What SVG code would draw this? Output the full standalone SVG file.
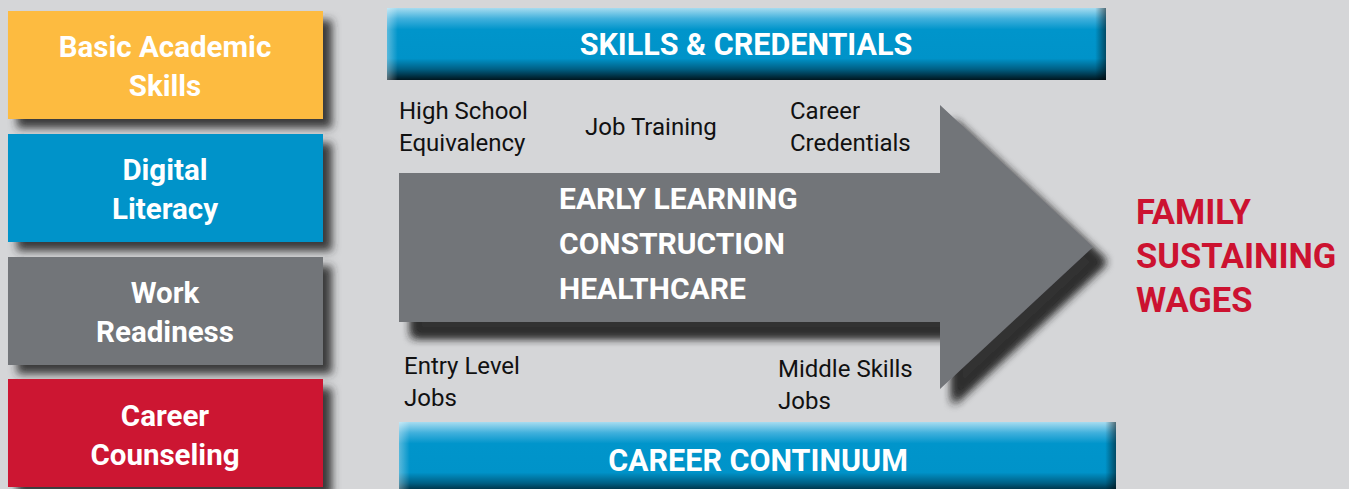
<svg xmlns="http://www.w3.org/2000/svg" width="1349" height="489" viewBox="0 0 1349 489">
<defs>
<filter id="sh" x="-10%" y="-20%" width="130%" height="150%">
<feGaussianBlur in="SourceAlpha" stdDeviation="4"/>
<feOffset dx="9" dy="9" result="b"/>
<feFlood flood-color="#2a2a2a" flood-opacity="0.9"/>
<feComposite in2="b" operator="in" result="s"/>
<feMerge><feMergeNode in="s"/><feMergeNode in="SourceGraphic"/></feMerge>
</filter>
<filter id="ash" x="-10%" y="-20%" width="130%" height="150%">
<feGaussianBlur in="SourceAlpha" stdDeviation="5"/>
<feOffset dx="13" dy="15" result="b"/>
<feFlood flood-color="#303030" flood-opacity="1"/>
<feComposite in2="b" operator="in" result="s"/>
<feMerge><feMergeNode in="s"/><feMergeNode in="s"/><feMergeNode in="SourceGraphic"/></feMerge>
</filter>
<linearGradient id="bv" x1="0" y1="0" x2="0" y2="1">
<stop offset="0" stop-color="#a6dcf0"/>
<stop offset="0.15" stop-color="#40b0dc"/>
<stop offset="0.3" stop-color="#0095cb"/>
<stop offset="0.7" stop-color="#0093c9"/>
<stop offset="0.85" stop-color="#005f84"/>
<stop offset="1" stop-color="#00161f"/>
</linearGradient>
<linearGradient id="bh" x1="0" y1="0" x2="1" y2="0">
<stop offset="0" stop-color="#ffffff" stop-opacity="0.35"/>
<stop offset="0.015" stop-color="#ffffff" stop-opacity="0"/>
<stop offset="0.985" stop-color="#000000" stop-opacity="0"/>
<stop offset="1" stop-color="#000000" stop-opacity="0.5"/>
</linearGradient>
<style>
.bx{font-family:Roboto,"Liberation Sans",sans-serif;font-weight:bold;font-size:29.5px;fill:#ffffff;text-anchor:middle}
.ban{font-family:Roboto,"Liberation Sans",sans-serif;font-weight:bold;font-size:30.5px;fill:#ffffff;text-anchor:middle}
.ar{font-family:Roboto,"Liberation Sans",sans-serif;font-weight:bold;font-size:30px;fill:#ffffff}
.sm{font-family:Roboto,"Liberation Sans",sans-serif;font-size:24px;fill:#111111}
.red{font-family:Roboto,"Liberation Sans",sans-serif;font-weight:bold;font-size:34.5px;fill:#cc1230}
</style>
</defs>
<rect width="1349" height="489" fill="#d5d6d8"/>

<g id="basic-academic-skills">
<rect x="8" y="11" width="315" height="108" fill="#fdbb3f" filter="url(#sh)"/>
<text class="bx" x="165" y="57">Basic Academic</text>
<text class="bx" x="165" y="96">Skills</text>
</g>
<g id="digital-literacy">
<rect x="8" y="134" width="315" height="108" fill="#0093c9" filter="url(#sh)"/>
<text class="bx" x="165" y="180">Digital</text>
<text class="bx" x="165" y="219">Literacy</text>
</g>
<g id="work-readiness">
<rect x="8" y="257" width="315" height="108" fill="#727479" filter="url(#sh)"/>
<text class="bx" x="165" y="303">Work</text>
<text class="bx" x="165" y="342">Readiness</text>
</g>
<g id="career-counseling">
<rect x="8" y="379" width="315" height="108" fill="#cc1230" filter="url(#sh)"/>
<text class="bx" x="165" y="426">Career</text>
<text class="bx" x="165" y="465">Counseling</text>
</g>

<g id="skills-credentials">
<rect x="387" y="8" width="719" height="72" fill="url(#bv)"/>
<rect x="387" y="8" width="719" height="72" fill="url(#bh)"/>
<text class="ban" x="746" y="55">SKILLS &amp; CREDENTIALS</text>
</g>

<g id="connectors">
<polygon id="main-arrow" points="399,173 940,173 940,105 1093,247 940,389 940,322 399,322" fill="#727479" filter="url(#ash)"/>
</g>

<g id="sectors">
<text class="ar" x="559" y="209">EARLY LEARNING</text>
<text class="ar" x="559" y="254">CONSTRUCTION</text>
<text class="ar" x="559" y="299">HEALTHCARE</text>
</g>

<g id="labels">
<text class="sm" x="399" y="119">High School</text>
<text class="sm" x="399" y="151">Equivalency</text>
<text class="sm" x="585" y="135">Job Training</text>
<text class="sm" x="790" y="119">Career</text>
<text class="sm" x="790" y="151">Credentials</text>
<text class="sm" x="404" y="374">Entry Level</text>
<text class="sm" x="404" y="406">Jobs</text>
<text class="sm" x="778" y="377">Middle Skills</text>
<text class="sm" x="778" y="409">Jobs</text>
</g>

<g id="family-sustaining-wages">
<text class="red" x="1136" y="224">FAMILY</text>
<text class="red" x="1136" y="268">SUSTAINING</text>
<text class="red" x="1136" y="312">WAGES</text>
</g>

<g id="career-continuum">
<rect x="399" y="422" width="717" height="72" fill="url(#bv)"/>
<rect x="399" y="422" width="717" height="72" fill="url(#bh)"/>
<text class="ban" x="758" y="471">CAREER CONTINUUM</text>
</g>
</svg>
